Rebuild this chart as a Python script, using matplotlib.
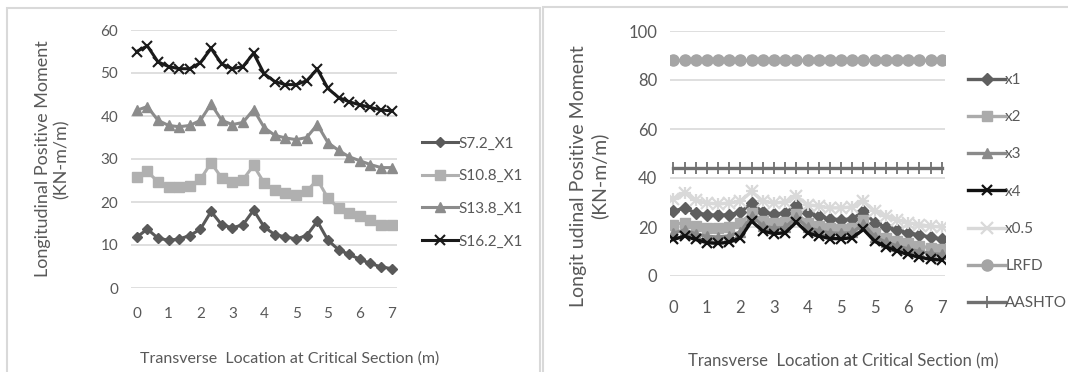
import matplotlib
matplotlib.use("Agg")
import matplotlib.pyplot as plt
from matplotlib.patches import Rectangle

plt.rcParams['font.family'] = ['Lato', 'DejaVu Sans']

# category positions along the critical section (25 points), labels every 3rd
idx = list(range(25))
tick_pos = [0, 3, 6, 9, 12, 15, 18, 21, 24]
tick_lab = ['0', '1', '2', '3', '4', '5', '5', '6', '7']

# left chart: different spans, x1
s72 = [11.8, 13.7, 11.6, 11.1, 11.4, 12.2, 13.7, 17.8, 14.7, 14.0, 14.7, 18.1, 14.2,
       12.4, 11.9, 11.4, 12.2, 15.5, 11.1, 8.9, 7.8, 6.7, 5.7, 4.9, 4.5]
s108 = [25.8, 27.1, 24.7, 23.4, 23.4, 23.8, 25.3, 29.1, 25.6, 24.7, 25.2, 28.5, 24.4,
        22.7, 22.1, 21.7, 22.5, 25.2, 20.9, 18.6, 17.4, 16.7, 15.7, 14.7, 14.7]
s138 = [41.3, 42.2, 39.0, 37.8, 37.5, 37.8, 39.0, 42.8, 39.0, 38.0, 38.5, 41.5, 37.3,
        35.5, 34.9, 34.5, 35.0, 38.0, 33.8, 32.0, 30.5, 29.6, 28.7, 28.0, 28.0]
s162 = [55.0, 56.3, 52.6, 51.5, 51.0, 51.0, 52.4, 55.7, 52.1, 51.0, 51.5, 54.6, 49.8,
        48.0, 47.3, 47.3, 48.2, 50.9, 46.4, 44.3, 43.3, 42.6, 42.0, 41.4, 41.2]

# right chart: load factors vs code values
x1 = [26.4, 27.8, 25.7, 25.1, 24.7, 25.1, 26.0, 29.8, 26.0, 25.3, 25.7, 29.0, 25.7,
      24.4, 23.3, 23.0, 23.3, 26.4, 21.7, 20.0, 18.7, 17.6, 16.7, 15.9, 15.0]
x2 = [21.0, 21.7, 20.3, 19.6, 19.6, 20.0, 21.7, 25.7, 22.4, 21.7, 22.0, 25.5, 21.7,
      20.3, 19.6, 19.2, 19.6, 23.0, 17.6, 15.6, 14.2, 13.3, 12.2, 11.5, 11.0]
x3 = [17.5, 18.8, 17.2, 16.2, 15.9, 16.4, 18.0, 24.5, 20.5, 19.5, 19.8, 24.0, 19.8,
      18.5, 17.6, 17.4, 17.8, 21.2, 16.0, 13.8, 12.3, 11.0, 10.0, 9.2, 8.8]
x4 = [14.9, 16.3, 14.9, 13.6, 13.3, 13.8, 15.6, 22.4, 18.3, 17.3, 17.6, 22.0, 17.6,
      16.3, 15.3, 15.2, 15.6, 19.0, 14.2, 11.9, 10.2, 8.8, 7.7, 6.8, 6.5]
x05 = [31.4, 33.9, 30.9, 29.8, 29.4, 29.8, 30.5, 34.5, 30.5, 29.8, 30.2, 32.5, 29.1,
       28.5, 27.8, 27.8, 28.2, 30.5, 26.4, 24.4, 23.0, 21.7, 21.0, 20.3, 20.0]
lrfd = [88.0] * 25
aashto = [44.2] * 25

W, H = 1068, 372
fig = plt.figure(figsize=(W / 100, H / 100), dpi=100)

def box(x0, y0, x1_, y1_):
    return [x0 / W, 1 - y1_ / H, (x1_ - x0) / W, (y1_ - y0) / H]

# panel frames
fig.patches.append(Rectangle((7 / W, -0.05), 533 / W, 1.05 - 8 / H, transform=fig.transFigure,
                             fill=False, edgecolor='#d9d9d9', lw=1.5))
fig.patches.append(Rectangle((543 / W, -0.05), 540 / W, 1.05 - 7 / H, transform=fig.transFigure,
                             fill=False, edgecolor='#d9d9d9', lw=1.5))

tc = '#595959'

def style(ax, xpad):
    for s in ax.spines.values():
        s.set_visible(False)
    ax.grid(axis='y', color='#d9d9d9', lw=1.2)
    ax.set_axisbelow(True)
    ax.tick_params(length=0, colors=tc, labelsize=11, pad=9)
    ax.tick_params(axis='x', pad=xpad)
    ax.set_xticks(tick_pos)
    ax.set_xticklabels(tick_lab)

# ---- left chart
axl = fig.add_axes(box(130.7, 30, 396.7, 288))
style(axl, 14)
axl.plot(idx, s72, '-D', color='#595959', lw=2.2, ms=5.5, label='S7.2_X1')
axl.plot(idx, s108, '-s', color='#b0b0b0', lw=2.2, ms=6.5, label='S10.8_X1')
axl.plot(idx, s138, '-^', color='#8c8c8c', lw=2.2, ms=7, label='S13.8_X1')
axl.plot(idx, s162, '-x', color='#1a1a1a', lw=2.2, ms=7, mew=1.5, label='S16.2_X1')
axl.set_xlim(-0.565, 24.47)
axl.set_ylim(0, 60)
axl.set_yticks([0, 10, 20, 30, 40, 50, 60])
axl.legend(loc='center left', bbox_to_anchor=(425 / W - 0.003, 1 - 192.5 / H),
           bbox_transform=fig.transFigure, frameon=False, fontsize=11,
           labelcolor=tc, handlelength=2.4, handletextpad=0.0, labelspacing=1.22,
           borderpad=0, borderaxespad=0)
fig.text(52 / W, 1 - 159 / H, 'Longitudinal Positive Moment\n(KN-m/m)', rotation=90,
         ha='center', va='center', multialignment='center', color=tc, fontsize=13)
fig.text(290 / W, 1 - 359 / H, 'Transverse  Location at Critical Section (m)',
         ha='center', va='center', color=tc, fontsize=11.5)

# ---- right chart
axr = fig.add_axes(box(670, 31, 945, 276))
style(axr, 17)
axr.plot(idx, x1, '-D', color='#5f5f5f', lw=2.4, ms=6, label='x1')
axr.plot(idx, x2, '-s', color='#ababab', lw=2.4, ms=7, label='x2')
axr.plot(idx, x3, '-^', color='#8a8a8a', lw=2.4, ms=7, label='x3')
axr.plot(idx, x4, '-x', color='#111111', lw=2.4, ms=7, mew=1.6, label='x4')
axr.plot(idx, x05, '-x', color='#d9d9d9', lw=2.4, ms=8, mew=1.6, label='x0.5')
axr.plot(idx, x05, 'none', marker='+', color='#d9d9d9', ms=8, mew=1.6)
axr.plot(idx, lrfd, '-o', color='#a5a5a5', lw=2.4, ms=8, label='LRFD')
axr.plot(idx, aashto, '-|', color='#707070', lw=2.4, ms=8, mew=1.3, label='AASHTO')
axr.set_xlim(-0.3, 24.29)
axr.set_ylim(0, 100)
axr.set_yticks([0, 20, 40, 60, 80, 100])
axr.tick_params(labelsize=12)
axr.legend(loc='center left', bbox_to_anchor=(971.7 / W - 0.003, 1 - 191.7 / H),
           bbox_transform=fig.transFigure, frameon=False, fontsize=11,
           labelcolor=tc, handlelength=2.4, handletextpad=0.0, labelspacing=1.52,
           borderpad=0, borderaxespad=0)
fig.text(589 / W, 1 - 176 / H, 'Longit udinal Positive Moment\n(KN-m/m)', rotation=90,
         ha='center', va='center', multialignment='center', color=tc, fontsize=14)
fig.text(843 / W, 1 - 361 / H, 'Transverse  Location at Critical Section (m)',
         ha='center', va='center', color=tc, fontsize=12)

fig.savefig('out.png', dpi=100)
